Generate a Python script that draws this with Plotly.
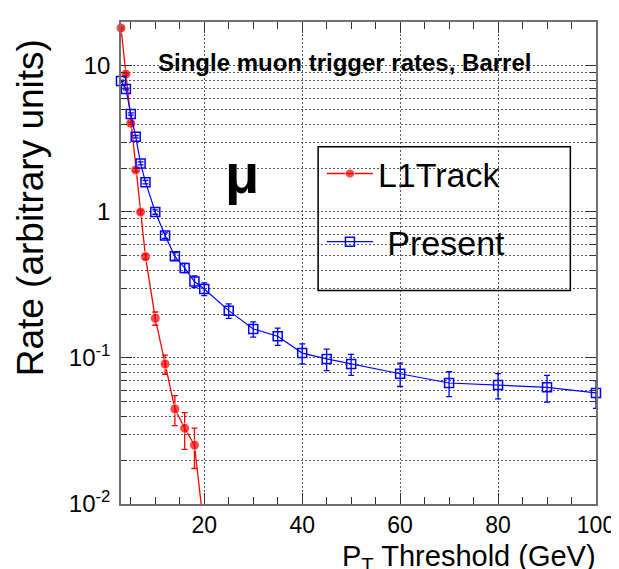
import plotly.graph_objects as go

# ---------------- data ----------------
l1_x = [3, 4, 5, 6, 7, 8, 10, 12, 14, 16, 18, 20]
l1_y = [18.2, 8.8, 4.05, 1.94, 1.0, 0.494, 0.187, 0.091, 0.0448, 0.033, 0.0253, 0.0065]
l1_err = [0.3, 0.15, 0.08, 0.05, 0.03, 0.02, 0.0195, 0.0136, 0.0104, 0.0093, 0.0078, 0.0]

pr_x = [3, 4, 5, 6, 7, 8, 10, 12, 14, 16, 18, 20, 25, 30, 35, 40, 45, 50, 60, 70, 80, 90, 100]
pr_y = [7.9, 6.95, 4.69, 3.28, 2.15, 1.60, 1.0, 0.69, 0.497, 0.414, 0.334, 0.297, 0.211,
        0.158, 0.141, 0.108, 0.0985, 0.091, 0.078, 0.0674, 0.0653, 0.063, 0.0576]
pr_err = [0.1, 0.1, 0.08, 0.06, 0.05, 0.045, 0.035, 0.03, 0.03, 0.03, 0.031, 0.030, 0.024,
          0.019, 0.019, 0.017, 0.0166, 0.015, 0.0142, 0.0131, 0.0129, 0.0131, 0.0124]

x_ticks = [20, 40, 60, 80, 100]
x_ticktext = ["20", "40", "60", "80", "100"]
x_minor = [5, 10, 15, 25, 30, 35, 45, 50, 55, 65, 70, 75, 85, 90, 95]
y_ticks = [0.01, 0.1, 1, 10]
y_ticktext = ["10<sup>-2</sup>", "10<sup>-1</sup>", "1", "10"]
y_minor = [m * d for d in [0.01, 0.1, 1, 10] for m in range(2, 10) if m * d <= 20]

RED = "#ff0000"
BLUE = "#0000ff"
FONT = "Liberation Sans, Arial, sans-serif"

fig = go.Figure()

l1_sizes = [10] * (len(l1_x) - 1) + [0]
fig.add_trace(go.Scatter(
    x=l1_x, y=l1_y, mode="lines+markers", name="L1Track",
    legendgroup="a",
    line=dict(color=RED, width=1.3),
    marker=dict(symbol="circle", size=l1_sizes, color=RED),
    error_y=dict(type="data", array=l1_err, color=RED, thickness=1.3, width=3),
    cliponaxis=False,
))
fig.add_trace(go.Scatter(
    x=pr_x, y=pr_y, mode="lines+markers", name=" Present",
    legendgroup="b",
    line=dict(color=BLUE, width=1.2),
    marker=dict(symbol="square-open", size=9, color=BLUE, line=dict(width=1.5, color=BLUE)),
    error_y=dict(type="data", array=pr_err, color=BLUE, thickness=1.3, width=3),
    cliponaxis=False,
))

axis_common = dict(
    showline=True, linecolor="#707070", linewidth=1.5,
    ticks="inside", tickcolor="#333333", tickwidth=1.2,
    mirror="ticks", zeroline=False,
    showgrid=True, gridcolor="#555555", gridwidth=1, griddash="2px,2px",
)

fig.update_xaxes(
    **axis_common,
    range=[3, 100],
    tickmode="array", tickvals=x_ticks, ticktext=x_ticktext,
    tickfont=dict(family=FONT, size=23, color="black"),
    ticklen=11,
    minor=dict(tickmode="array", tickvals=x_minor, ticklen=7, ticks="inside",
               tickcolor="#333333", showgrid=False),
)
fig.update_yaxes(
    **axis_common,
    type="log", range=[-2, 1.301],
    tickmode="array", tickvals=y_ticks, ticktext=y_ticktext,
    tickfont=dict(family=FONT, size=24, color="black"),
    ticklen=11, ticklabelstandoff=4,
    minor=dict(tickmode="array", tickvals=y_minor, ticklen=6, ticks="inside",
               tickcolor="#333333", showgrid=True, gridcolor="#555555",
               griddash="2px,2px", gridwidth=1),
)

# axis titles (placed as in the reference: right / upper aligned)
fig.add_annotation(text="P<sub>T</sub> Threshold (GeV)", xref="paper", yref="paper",
                   x=1.004, y=-0.113, xanchor="right", yanchor="middle", showarrow=False,
                   font=dict(family=FONT, size=29, color="black"))
fig.add_annotation(text="Rate (arbitrary units)", xref="paper", yref="paper",
                   x=-0.19, y=0.615, xanchor="center", yanchor="middle", showarrow=False,
                   textangle=-90, font=dict(family=FONT, size=37, color="black"))

# legend frame
fig.add_shape(type="rect", xref="paper", yref="paper",
              x0=0.415, x1=0.946, y0=0.443, y1=0.741,
              line=dict(color="black", width=1.5), fillcolor="rgba(0,0,0,0)")

fig.add_annotation(text="<b>Single muon trigger rates, Barrel</b>", xref="paper", yref="paper",
                   x=0.47, y=0.915, xanchor="center", yanchor="middle", showarrow=False,
                   font=dict(family=FONT, size=24, color="black"))
fig.add_annotation(text="<b>μ</b>", xref="paper", yref="paper",
                   x=0.255, y=0.686, xanchor="center", yanchor="middle", showarrow=False,
                   font=dict(family=FONT, size=56, color="black"))

fig.update_layout(
    width=619, height=569,
    margin=dict(l=113, r=24, t=13, b=73),
    paper_bgcolor="white", plot_bgcolor="white",
    showlegend=True,
    legend=dict(x=0.423, y=0.745, xanchor="left", yanchor="top",
                bgcolor="rgba(0,0,0,0)", borderwidth=0,
                font=dict(family=FONT, size=34, color="black"),
                itemwidth=46, tracegroupgap=21, traceorder="grouped"),
)

fig.write_html("out.html")
